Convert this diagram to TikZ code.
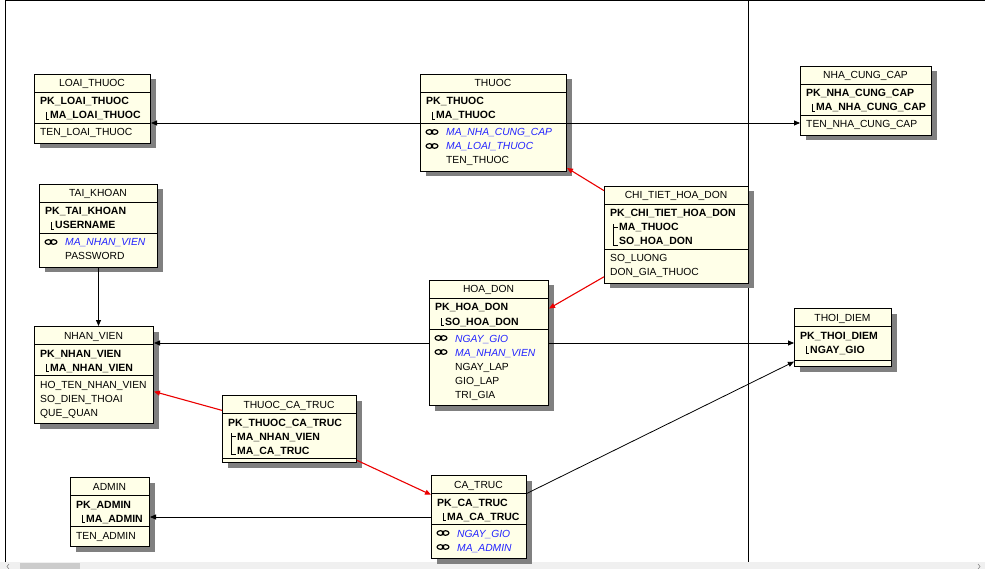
\documentclass[tikz,border=0pt]{standalone}
\usepackage{fontspec}
\setmainfont{Liberation Sans}
\usetikzlibrary{arrows.meta,shadows}
\definecolor{boxfill}{RGB}{255,255,232}
\definecolor{fkblue}{RGB}{35,35,255}
\definecolor{relred}{RGB}{235,0,0}
\tikzset{
  fkicon/.pic={\draw[line width=1.2pt] (-2.6,0) ellipse [x radius=3.3pt, y radius=2.3pt]
                                        (2.6,0) ellipse [x radius=3.3pt, y radius=2.3pt];}
}

\begin{document}
\begin{tikzpicture}[x=1pt, y=-1pt,
  tbl/.style={draw, line width=1pt, fill=boxfill, anchor=north west, inner sep=0pt,
    general shadow={fill=black!50, draw=none, shadow xshift=5pt, shadow yshift=-5pt}},
  ttl/.style={anchor=base, inner sep=0pt, font=\fontsize{10.3}{12}\selectfont},
  pk/.style={anchor=base west, inner sep=0pt, font=\fontsize{10.5}{12}\selectfont\bfseries},
  att/.style={anchor=base west, inner sep=0pt, font=\fontsize{10.3}{12}\selectfont},
  fk/.style={att, text=fkblue, font=\fontsize{10.3}{12}\selectfont\itshape},
  sep/.style={line width=0.8pt},
  tree/.style={line width=0.8pt},
  rel/.style={-{Triangle[length=6pt,width=5pt]}, line width=0.8pt},
  relred/.style={rel, draw=relred, line width=1.1pt}]

\fill[white] (0,0) rectangle (985,569);
\useasboundingbox (0,0) rectangle (985,569);
\draw (5,0.5) -- (985,0.5);
\draw (5,0) -- (5,562);
\draw (748.5,0) -- (748.5,562);
\fill[black!6] (0,562) rectangle (985,569);
\fill[black!20] (20,563) rectangle (80,569);
\draw[black!60] (9,564) -- (7,566.5) -- (9,569) (978,564) -- (980,566.5) -- (978,569);

% LOAI_THUOC
\begin{scope}[shift={(34,74)}]
  \node[tbl, minimum width=116pt, minimum height=69pt] (loaithuoc) at (0,0) {};
  \node[ttl] at (58,13) {LOAI\_THUOC};
  \draw[sep] (0,18) -- (116,18) (0,49) -- (116,49);
  \node[pk] at (6,31) {PK\_LOAI\_THUOC};
  \draw[tree] (12,38) |- (15,45);
  \node[pk] at (16,45) {MA\_LOAI\_THUOC};
  \node[att] at (6,62) {TEN\_LOAI\_THUOC};
\end{scope}

% THUOC
\begin{scope}[shift={(420,74)}]
  \node[tbl, minimum width=146pt, minimum height=97pt] (thuoc) at (0,0) {};
  \node[ttl] at (73,13) {THUOC};
  \draw[sep] (0,18) -- (146,18) (0,49) -- (146,49);
  \node[pk] at (6,31) {PK\_THUOC};
  \draw[tree] (12,38) |- (15,45);
  \node[pk] at (16,45) {MA\_THUOC};
  \pic at (12,58) {fkicon};
  \pic at (12,72) {fkicon};
  \node[fk] at (26,62) {MA\_NHA\_CUNG\_CAP};
  \node[fk] at (26,76) {MA\_LOAI\_THUOC};
  \node[att] at (26,90) {TEN\_THUOC};
\end{scope}

% NHA_CUNG_CAP
\begin{scope}[shift={(800,66)}]
  \node[tbl, minimum width=131pt, minimum height=69pt] (nhacungcap) at (0,0) {};
  \node[ttl] at (65.5,13) {NHA\_CUNG\_CAP};
  \draw[sep] (0,18) -- (131,18) (0,49) -- (131,49);
  \node[pk] at (6,31) {PK\_NHA\_CUNG\_CAP};
  \draw[tree] (12,38) |- (15,45);
  \node[pk] at (16,45) {MA\_NHA\_CUNG\_CAP};
  \node[att] at (6,62) {TEN\_NHA\_CUNG\_CAP};
\end{scope}

% TAI_KHOAN
\begin{scope}[shift={(39,184)}]
  \node[tbl, minimum width=118pt, minimum height=83pt] (taikhoan) at (0,0) {};
  \node[ttl] at (59,13) {TAI\_KHOAN};
  \draw[sep] (0,18) -- (118,18) (0,49) -- (118,49);
  \node[pk] at (6,31) {PK\_TAI\_KHOAN};
  \draw[tree] (12,38) |- (15,45);
  \node[pk] at (16,45) {USERNAME};
  \pic at (12,58) {fkicon};
  \node[fk] at (26,62) {MA\_NHAN\_VIEN};
  \node[att] at (26,76) {PASSWORD};
\end{scope}

% CHI_TIET_HOA_DON
\begin{scope}[shift={(604,186)}]
  \node[tbl, minimum width=144pt, minimum height=97pt] (chitiethoadon) at (0,0) {};
  \node[ttl] at (72,13) {CHI\_TIET\_HOA\_DON};
  \draw[sep] (0,18) -- (144,18) (0,63) -- (144,63);
  \node[pk] at (6,31) {PK\_CHI\_TIET\_HOA\_DON};
  \draw[tree] (9,38) |- (14,59) (9,41) -- (14,41);
  \node[pk] at (15,45) {MA\_THUOC};
  \node[pk] at (15,59) {SO\_HOA\_DON};
  \node[att] at (6,76) {SO\_LUONG};
  \node[att] at (6,90) {DON\_GIA\_THUOC};
\end{scope}

% HOA_DON
\begin{scope}[shift={(429,280)}]
  \node[tbl, minimum width=119pt, minimum height=125pt] (hoadon) at (0,0) {};
  \node[ttl] at (59.5,13) {HOA\_DON};
  \draw[sep] (0,18) -- (119,18) (0,49) -- (119,49);
  \node[pk] at (6,31) {PK\_HOA\_DON};
  \draw[tree] (12,38) |- (15,45);
  \node[pk] at (16,45) {SO\_HOA\_DON};
  \pic at (12,58) {fkicon};
  \pic at (12,72) {fkicon};
  \node[fk] at (26,62) {NGAY\_GIO};
  \node[fk] at (26,76) {MA\_NHAN\_VIEN};
  \node[att] at (26,90) {NGAY\_LAP};
  \node[att] at (26,104) {GIO\_LAP};
  \node[att] at (26,118) {TRI\_GIA};
\end{scope}

% NHAN_VIEN
\begin{scope}[shift={(34,326)}]
  \node[tbl, minimum width=119pt, minimum height=97pt] (nhanvien) at (0,0) {};
  \node[ttl] at (59.5,13) {NHAN\_VIEN};
  \draw[sep] (0,18) -- (119,18) (0,49) -- (119,49);
  \node[pk] at (6,31) {PK\_NHAN\_VIEN};
  \draw[tree] (12,38) |- (15,45);
  \node[pk] at (16,45) {MA\_NHAN\_VIEN};
  \node[att] at (6,62) {HO\_TEN\_NHAN\_VIEN};
  \node[att] at (6,76) {SO\_DIEN\_THOAI};
  \node[att] at (6,90) {QUE\_QUAN};
\end{scope}

% THOI_DIEM
\begin{scope}[shift={(794,308)}]
  \node[tbl, minimum width=97pt, minimum height=58pt] (thoidiem) at (0,0) {};
  \node[ttl] at (48.5,13) {THOI\_DIEM};
  \draw[sep] (0,18) -- (97,18) (0,52) -- (97,52);
  \node[pk] at (6,31) {PK\_THOI\_DIEM};
  \draw[tree] (12,38) |- (15,45);
  \node[pk] at (16,45) {NGAY\_GIO};
\end{scope}

% THUOC_CA_TRUC
\begin{scope}[shift={(222,395)}]
  \node[tbl, minimum width=134pt, minimum height=67pt] (thuoccatruc) at (0,0) {};
  \node[ttl] at (67,13) {THUOC\_CA\_TRUC};
  \draw[sep] (0,18) -- (134,18) (0,63) -- (134,63);
  \node[pk] at (6,31) {PK\_THUOC\_CA\_TRUC};
  \draw[tree] (9,38) |- (14,59) (9,41) -- (14,41);
  \node[pk] at (15,45) {MA\_NHAN\_VIEN};
  \node[pk] at (15,59) {MA\_CA\_TRUC};
\end{scope}

% ADMIN
\begin{scope}[shift={(70,477)}]
  \node[tbl, minimum width=79pt, minimum height=69pt] (admin) at (0,0) {};
  \node[ttl] at (39.5,13) {ADMIN};
  \draw[sep] (0,18) -- (79,18) (0,49) -- (79,49);
  \node[pk] at (6,31) {PK\_ADMIN};
  \draw[tree] (12,38) |- (15,45);
  \node[pk] at (16,45) {MA\_ADMIN};
  \node[att] at (6,62) {TEN\_ADMIN};
\end{scope}

% CA_TRUC
\begin{scope}[shift={(431,475)}]
  \node[tbl, minimum width=95pt, minimum height=83pt] (catruc) at (0,0) {};
  \node[ttl] at (47.5,13) {CA\_TRUC};
  \draw[sep] (0,18) -- (95,18) (0,49) -- (95,49);
  \node[pk] at (6,31) {PK\_CA\_TRUC};
  \draw[tree] (12,38) |- (15,45);
  \node[pk] at (16,45) {MA\_CA\_TRUC};
  \pic at (12,58) {fkicon};
  \pic at (12,72) {fkicon};
  \node[fk] at (26,62) {NGAY\_GIO};
  \node[fk] at (26,76) {MA\_ADMIN};
\end{scope}

% references
\draw[rel] (thuoc.west) -- (thuoc.west -| loaithuoc.east);
\draw[rel] (thuoc.east) -- (thuoc.east -| nhacungcap.west);
\draw[relred] (chitiethoadon) -- (thuoc);
\draw[relred] (chitiethoadon) -- (hoadon);
\draw[rel] (taikhoan.south) -- (taikhoan.south |- nhanvien.north);
\draw[rel] (hoadon.west) -- (hoadon.west -| nhanvien.east);
\draw[rel] (hoadon.east) -- (hoadon.east -| thoidiem.west);
\draw[relred] (thuoccatruc) -- (nhanvien);
\draw[relred] (thuoccatruc) -- (catruc);
\draw[rel] (catruc.west) -- (catruc.west -| admin.east);
\draw[rel] (catruc) -- (thoidiem);
\end{tikzpicture}
\end{document}
